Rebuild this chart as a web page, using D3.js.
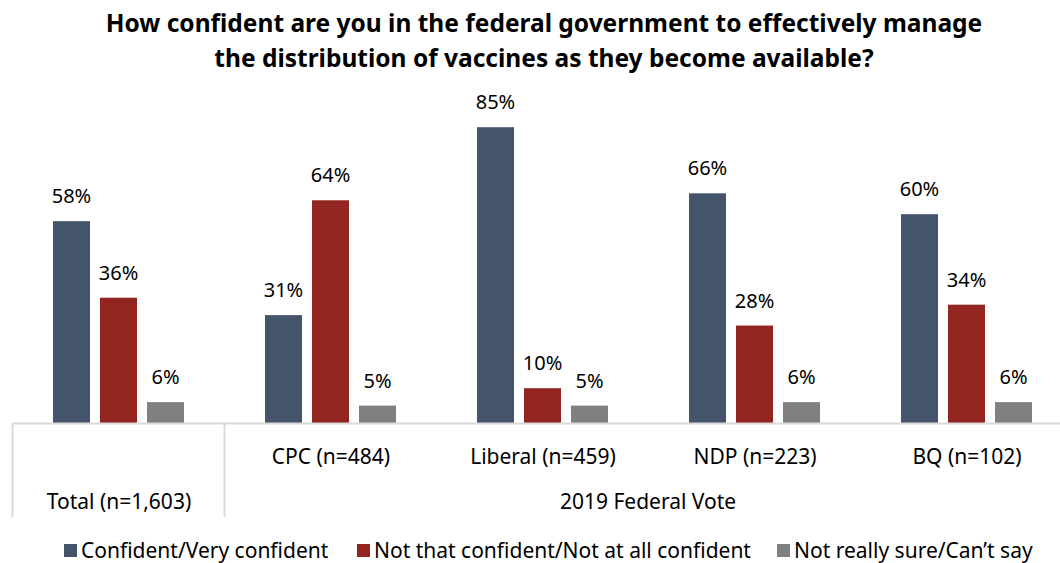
<!DOCTYPE html>
<meta charset="utf-8">
<script src="https://d3js.org/d3.v7.min.js"></script>
<style>
  body { margin: 0; background: #fff; }
  text { font-family: "Noto Sans", "Open Sans", sans-serif; fill: #000; }
</style>
<div id="chart"></div>
<script>

    // data
    var groups = ["Total (n=1,603)", "CPC (n=484)", "Liberal (n=459)", "NDP (n=223)", "BQ (n=102)"];
    var series = ["Confident/Very confident", "Not that confident/Not at all confident", "Not really sure/Can\u2019t say"];
    var confident = [58, 31, 85, 66, 60];
    var notConfident = [36, 64, 10, 28, 34];
    var notSure = [6, 5, 5, 6, 6];
    var colors = ["#44546a", "#922520", "#808080"];

    var width = 1060, height = 563;
    var baseline = 423;

    var svg = d3.select("#chart")
        .append("svg")
        .attr("width", width)
        .attr("height", height);

    // scales
    var x0 = d3.scaleBand()
        .domain(groups)
        .range([13, 13 + 212 * groups.length]);

    var x1 = d3.scaleBand()
        .domain(series)
        .range([40, 171])
        .paddingInner(0.213);

    var y = d3.scaleLinear()
        .domain([0, 100])
        .range([baseline, baseline - 348]);

    var color = d3.scaleOrdinal().domain(series).range(colors);

    var rows = groups.map(function(g, i) {
        return { group: g, values: [confident[i], notConfident[i], notSure[i]] };
    });

    // title
    var title = svg.append("text")
        .attr("text-anchor", "middle")
        .style("font-size", "24.5px")
        .style("font-weight", "bold");
    title.append("tspan").attr("x", 544).attr("y", 32)
        .text("How confident are you in the federal government to effectively manage");
    title.append("tspan").attr("x", 544).attr("y", 67)
        .text("the distribution of vaccines as they become available?");

    // bars
    var g = svg.selectAll(".grp")
        .data(rows)
        .enter()
        .append("g")
        .attr("class", "grp")
        .attr("transform", function(d) { return "translate(" + x0(d.group) + ",0)"; });

    g.selectAll("rect")
        .data(function(d) { return d.values.map(function(v, i) { return { key: series[i], value: v }; }); })
        .enter()
        .append("rect")
        .attr("x", function(d) { return x1(d.key); })
        .attr("width", x1.bandwidth())
        .attr("y", function(d) { return y(d.value); })
        .attr("height", function(d) { return baseline - y(d.value); })
        .style("fill", function(d) { return color(d.key); });

    // value labels
    g.selectAll(".lbl")
        .data(function(d) { return d.values.map(function(v, i) { return { key: series[i], value: v }; }); })
        .enter()
        .append("text")
        .attr("class", "lbl")
        .attr("text-anchor", "middle")
        .attr("x", function(d) { return x1(d.key) + x1.bandwidth() / 2; })
        .attr("y", function(d) { return y(d.value) - 18; })
        .style("font-size", "20px")
        .text(function(d) { return d.value + "%"; });

    // axis line and category dividers
    svg.append("line")
        .attr("x1", 12).attr("x2", width)
        .attr("y1", baseline + 0.5).attr("y2", baseline + 0.5)
        .style("stroke", "#d9d9d9").style("stroke-width", 2);

    [x0(groups[0]) - 0.5, x0(groups[1]) - 0.5].forEach(function(xx) {
        svg.append("line")
            .attr("x1", xx).attr("x2", xx)
            .attr("y1", baseline).attr("y2", 517)
            .style("stroke", "#d9d9d9").style("stroke-width", 2);
    });

    // category labels
    svg.selectAll(".cat")
        .data(groups)
        .enter()
        .append("text")
        .attr("class", "cat")
        .attr("text-anchor", "middle")
        .attr("x", function(d) { return x0(d) + x0.bandwidth() / 2; })
        .attr("y", function(d, i) { return i === 0 ? 509 : 464; })
        .style("font-size", "21px")
        .text(function(d) { return d; });

    svg.append("text")
        .attr("text-anchor", "middle")
        .attr("x", 648)
        .attr("y", 509)
        .style("font-size", "21px")
        .text("2019 Federal Vote");

    // legend
    var legendX = [64, 357, 777];
    var leg = svg.selectAll(".leg")
        .data(series)
        .enter()
        .append("g")
        .attr("class", "leg")
        .attr("transform", function(d, i) { return "translate(" + legendX[i] + ",544)"; });

    leg.append("rect")
        .attr("width", 13).attr("height", 13)
        .style("fill", function(d) { return color(d); });

    leg.append("text")
        .attr("x", 17)
        .attr("y", 14)
        .style("font-size", "21px")
        .text(function(d) { return d; });

</script>
